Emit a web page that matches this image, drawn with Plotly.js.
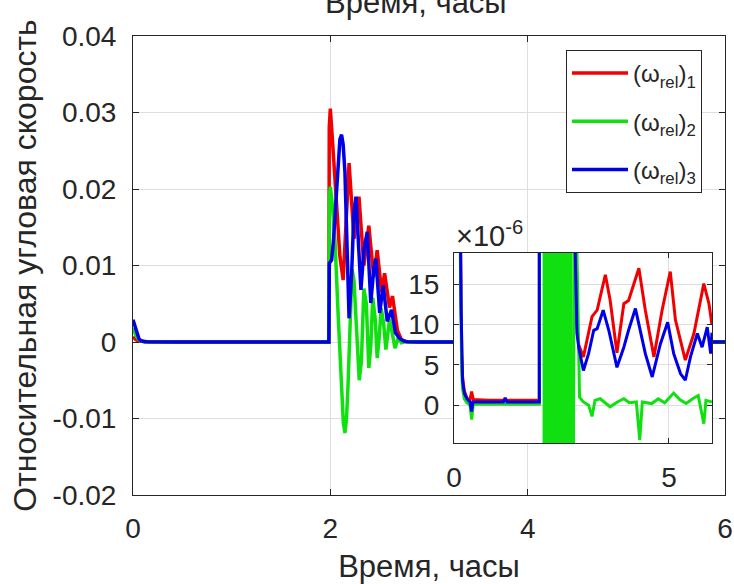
<!DOCTYPE html>
<html>
<head>
<meta charset="utf-8">
<script src="https://cdn.plot.ly/plotly-3.0.1.min.js"></script>
<style>html,body{margin:0;padding:0;background:#fff;}#chart{width:734px;height:584px;}</style>
</head>
<body>
<div id="chart"></div>
<script>
// ---- data (time in hours, relative angular velocity) ----
const seriesNames = ['(ω<sub>rel</sub>)<sub>1</sub>', '(ω<sub>rel</sub>)<sub>2</sub>', '(ω<sub>rel</sub>)<sub>3</sub>'];

const tRed = [0, 0.03, 0.06, 0.09, 0.12, 0.15, 0.165, 0.18, 0.20, 0.24, 0.30, 0.37, 0.41, 0.45, 0.80, 1.20, 1.60, 1.985,
  1.989, 2.00, 2.03, 2.064, 2.097, 2.13, 2.16, 2.19, 2.24, 2.29, 2.34, 2.39, 2.44, 2.475, 2.52, 2.55, 2.60, 2.63, 2.68, 2.72, 2.76, 2.80, 2.83, 2.86, 2.90,
  3.01, 3.21, 3.33, 3.52, 3.63, 3.79, 3.95, 4.06, 4.30, 4.45, 4.65, 4.84, 5.03, 5.15, 5.38, 5.58, 5.81, 5.93, 6.0];
const red = [0.0007, 0.0003, 0.00012, 0.00005, 0.00003, 0.000022, 0.000013, 0.000006, 0.0000035, 0.0000018, 0.0000009, 0.0000006, 0.0000017, 0.0000007, 0.0000006, 0.0000006, 0.0000006, 0.0000006,
  0.028, 0.0305, 0.0247, 0.0173, 0.0112, 0.0081, 0.0150, 0.0234, 0.0135, 0.0190, 0.0100, 0.0152, 0.0085, 0.0120, 0.0065, 0.0090, 0.0045, 0.0060, 0.0015, 0.0003, 0.00008, 0.00003, 0.000018, 0.000010, 0.0000075,
  0.0000060, 0.0000110, 0.0000118, 0.0000162, 0.0000131, 0.0000065, 0.0000126, 0.0000130, 0.0000170, 0.0000118, 0.0000060, 0.0000118, 0.0000166, 0.0000106, 0.0000056, 0.0000089, 0.0000151, 0.0000126, 0.0000100];

const tGreen = [0, 0.03, 0.06, 0.09, 0.12, 0.15, 0.165, 0.18, 0.20, 0.24, 0.30, 0.37, 0.41, 0.45, 0.80, 1.20, 1.60, 1.985,
  1.99, 2.00, 2.02, 2.047, 2.08, 2.114, 2.132, 2.148, 2.164, 2.18, 2.20, 2.22, 2.24, 2.27, 2.293, 2.315, 2.34, 2.365, 2.39, 2.41, 2.43, 2.455, 2.475, 2.495, 2.515, 2.54, 2.563, 2.58, 2.60, 2.63, 2.655, 2.69, 2.72, 2.76, 2.80, 2.85, 2.88, 2.92,
  3.01, 3.13, 3.21, 3.28, 3.40, 3.63, 3.80, 3.95, 4.08, 4.24, 4.32, 4.38, 4.60, 4.75, 4.90, 5.11, 5.25, 5.40, 5.55, 5.68, 5.81, 5.86, 6.0];
const green = [0.0018, 0.0008, 0.0003, 0.0001, 0.00004, 0.000018, 0.000009, 0.000004, 0.000002, 0.0000008, 0.0000003, 0.0000001, -0.0000018, 0.0000001, 0.0000001, 0.0000001, 0.0000001, 0.0000001,
  0.019, 0.0203, 0.0180, 0.0133, 0.0033, -0.0067, -0.0106, -0.0119, -0.0100, -0.0054, 0.0035, 0.0095, 0.0080, 0.0010, -0.0050, -0.0025, 0.0070, 0.0050, -0.0034, -0.0005, 0.0058, 0.0030, -0.0021, 0.0005, 0.0044, 0.0025, -0.0010, 0.0008, 0.0030, 0.0010, -0.0008, 0.0006, -0.0001, 0.00003, 0.000030, 0.000022, 0.000012, 0.0000010,
  0.0000004, 0.0000000, -0.0000014, 0.0000006, 0.0000008, -0.0000002, 0.0000004, 0.0000008, 0.0000003, 0.0000004, -0.0000043, 0.0000004, 0.0000002, 0.0000008, 0.0000003, 0.0000015, 0.0000007, 0.0000002, 0.0000008, 0.0000012, -0.0000023, 0.0000006, 0.0000004];

const tBlue = [0, 0.02, 0.04, 0.06, 0.08, 0.10, 0.12, 0.14, 0.15, 0.165, 0.18, 0.20, 0.24, 0.30, 0.37, 0.41, 0.44, 0.80, 1.15, 1.19, 1.23, 1.60, 1.985,
  1.99, 2.013, 2.03, 2.047, 2.065, 2.08, 2.097, 2.114, 2.13, 2.148, 2.16, 2.171, 2.19, 2.216, 2.239, 2.26, 2.283, 2.31, 2.34, 2.374, 2.41, 2.44, 2.462, 2.50, 2.536, 2.577, 2.62, 2.66, 2.70, 2.74, 2.78, 2.80, 2.82, 2.86, 2.90,
  3.01, 3.13, 3.25, 3.33, 3.47, 3.60, 3.79, 3.95, 4.06, 4.22, 4.33, 4.45, 4.61, 4.80, 4.97, 5.11, 5.27, 5.38, 5.50, 5.66, 5.77, 5.89, 5.97, 6.0];
const blue = [0.0029, 0.0021, 0.0011, 0.00045, 0.00016, 0.00007, 0.00004, 0.000025, 0.000022, 0.000012, 0.0000055, 0.0000030, 0.0000015, 0.0000008, 0.0000004, -0.0000008, 0.0000004, 0.0000004, 0.0000004, 0.0000009, 0.0000004, 0.0000004, 0.0000004,
  0.0103, 0.0107, 0.0130, 0.0164, 0.0210, 0.0242, 0.0265, 0.0271, 0.0258, 0.0222, 0.0175, 0.0120, 0.0031, 0.0090, 0.0170, 0.0190, 0.0142, 0.0068, 0.0120, 0.0144, 0.0051, 0.0095, 0.0109, 0.0038, 0.0074, 0.0027, 0.0042, 0.0012, 0.0005, 0.00015, 0.00004, 0.000025, 0.000019, 0.000009, 0.0000072,
  0.0000043, 0.0000064, 0.0000093, 0.0000095, 0.0000118, 0.0000093, 0.0000047, 0.0000072, 0.0000093, 0.0000120, 0.0000093, 0.0000064, 0.0000035, 0.0000076, 0.0000103, 0.0000064, 0.0000039, 0.0000031, 0.0000060, 0.0000089, 0.0000072, 0.0000097, 0.0000064, 0.0000090];

// fast green oscillation seen as a solid band in the zoomed inset (hours)
const greenBandStart = [2.07];
const greenBandEnd = [2.69];

// tick definitions
const mainXTicks = [0, 2, 4, 6];
const mainYTicks = [-0.02, -0.01, 0, 0.01, 0.02, 0.03, 0.04];
const mainYTickText = ['-0.02', '-0.01', '0', '0.01', '0.02', '0.03', '0.04'];
const insetXTicks = [0, 5];
const insetYTicks = [0, 5e-6, 10e-6, 15e-6];
const insetYTickText = ['0', '5', '10', '15'];

const colors = ['#f00000', '#10e010', '#0000e8'];
const series = [[tRed, red], [tGreen, green], [tBlue, blue]];

const traces = [];
series.forEach((s, i) => {
  traces.push({x: s[0], y: s[1], type: 'scatter', mode: 'lines', name: seriesNames[i],
    line: {color: colors[i], width: 3.5}, xaxis: 'x', yaxis: 'y', legendgroup: 'g' + i});
});
// inset band (green)
traces.push({x: [(greenBandStart[0] + greenBandEnd[0]) / 2], y: [1], base: [-0.5], width: [greenBandEnd[0] - greenBandStart[0]],
  type: 'bar', marker: {color: colors[1], line: {width: 0}}, xaxis: 'x2', yaxis: 'y2', showlegend: false, hoverinfo: 'skip'});
series.forEach((s, i) => {
  traces.push({x: s[0], y: s[1], type: 'scatter', mode: 'lines', showlegend: false,
    line: {color: colors[i], width: 3}, xaxis: 'x2', yaxis: 'y2'});
});

const axCol = '#262626', gridCol = '#dedede';
const F = 'Liberation Sans, Arial, Helvetica, sans-serif';
const layout = {
  width: 734, height: 584,
  margin: {l: 133, r: 9, t: 36, b: 89},
  paper_bgcolor: '#ffffff', plot_bgcolor: '#ffffff',
  font: {family: F, color: axCol},
  bargap: 0,
  xaxis: {domain: [0, 1], range: [0, 6], tickvals: mainXTicks, ticks: 'inside', ticklen: 6, tickcolor: axCol,
    showline: true, linecolor: axCol, linewidth: 1, mirror: 'ticks', showgrid: true, gridcolor: gridCol, zeroline: false,
    tickfont: {size: 28, family: F, color: axCol}, ticklabelstandoff: 8,
    title: {text: 'Время, часы', font: {size: 31, family: F, color: axCol}, standoff: 16}, automargin: false},
  yaxis: {domain: [0, 1], range: [-0.02, 0.04], tickvals: mainYTicks, ticktext: mainYTickText, ticks: 'inside', ticklen: 6, tickcolor: axCol,
    showline: true, linecolor: axCol, linewidth: 1, mirror: 'ticks', showgrid: true, gridcolor: gridCol, zeroline: false,
    tickfont: {size: 28, family: F, color: axCol}, ticklabelstandoff: 10,
    title: {text: 'Относительная угловая скорость', font: {size: 32, family: F, color: axCol}, standoff: 6}, automargin: false},
  xaxis2: {domain: [0.5422, 0.978], anchor: 'y2', range: [0, 6], tickvals: insetXTicks, ticks: 'inside', ticklen: 5, tickcolor: axCol,
    showline: true, linecolor: axCol, linewidth: 1, mirror: 'ticks', showgrid: true, gridcolor: gridCol, zeroline: false,
    tickfont: {size: 28, family: F, color: axCol}, ticklabelstandoff: 9},
  yaxis2: {domain: [0.1133, 0.5272], anchor: 'x2', range: [-4.7e-6, 18.9e-6], tickvals: insetYTicks, ticktext: insetYTickText, ticks: 'inside', ticklen: 5, tickcolor: axCol,
    showline: true, linecolor: axCol, linewidth: 1, mirror: 'ticks', showgrid: true, gridcolor: gridCol, zeroline: false,
    tickfont: {size: 28, family: F, color: axCol}, ticklabelstandoff: 8},
  showlegend: true,
  legend: {x: 0.7314, y: 0.9695, xanchor: 'left', yanchor: 'top', bgcolor: '#ffffff', bordercolor: axCol, borderwidth: 1,
    font: {size: 24, family: F, color: axCol}, itemwidth: 56, traceorder: 'grouped', tracegroupgap: 14},
  annotations: [
    {xref: 'paper', yref: 'paper', x: 0.5422, y: 0.5272, xanchor: 'left', yanchor: 'bottom', yshift: -1, showarrow: false,
      text: '×10<sup>-6</sup>', font: {size: 29, family: F, color: axCol}},
    {xref: 'paper', yref: 'paper', x: 0.478, y: 1.074, xanchor: 'center', yanchor: 'middle', showarrow: false,
      text: 'Время, часы', font: {size: 31, family: F, color: axCol}}
  ]
};

Plotly.newPlot('chart', traces, layout, {staticPlot: true, displayModeBar: false});
</script>
</body>
</html>
